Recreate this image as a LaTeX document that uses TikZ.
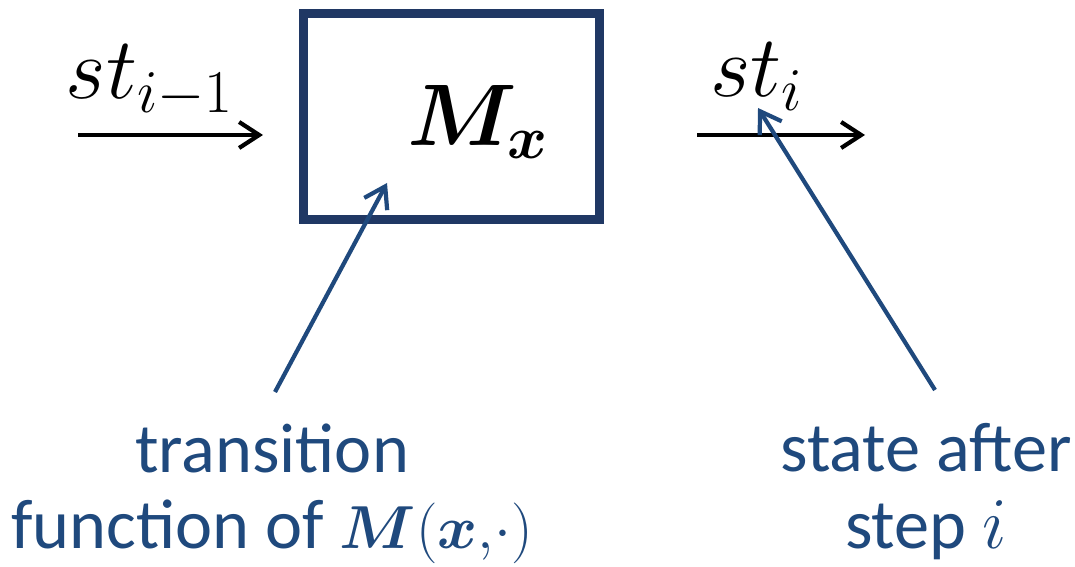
\documentclass[tikz,border=0pt]{standalone}
\usepackage{fontspec}
\setmainfont{Carlito}
\usepackage{amsmath, bm}
\usepackage{tikz}
\usetikzlibrary{arrows.meta}
\definecolor{boxnavy}{RGB}{32,56,100}
\definecolor{noteblue}{RGB}{31,73,125}

\begin{document}
\begin{tikzpicture}[scale=1,
        flow/.style={-{Straight Barb[length=2mm,width=2.6mm]}, line width=1.2pt},
        pointer/.style={-{Straight Barb[length=2mm,width=2.6mm]}, line width=1.2pt, noteblue},
        note/.style={noteblue, align=center, inner sep=0pt, font=\fontsize{20}{21.8}\selectfont}]
        \useasboundingbox (0,0) rectangle (10.75,5.66);
        % the machine M_x
        \node[draw=boxnavy, line width=2.3pt, minimum width=2.96cm, minimum height=2.06cm, inner sep=0pt] (box) at (4.515,4.495) {};
        \node (mx) at (4.78,4.44) {\fontsize{25}{30}\selectfont $\bm{M}_{\bm{x}}$};
        % state before and after
        \coordinate (in0) at (0.78,4.31);
        \coordinate (in1) at (2.63,4.31);
        \coordinate (out0) at (6.97,4.31);
        \coordinate (out1) at (8.65,4.31);
        \draw[flow] (in0) -- (in1);
        \draw[flow] (out0) -- (out1);
        \node[anchor=base] (sprev) at (1.50,4.67) {\fontsize{25}{30}\selectfont $st_{i-1}$};
        \node[anchor=base] (snext) at (7.57,4.69) {\fontsize{25}{30}\selectfont $st_i$};
        % the two notes
        \node[note, anchor=north] (trans) at (2.72,1.43) {transition\\function of {\fontsize{18}{21.8}\selectfont$\bm{M}(\bm{x}{,}\cdot)$}};
        \node[note, anchor=north] (after) at (9.26,1.43) {state after\\step $i$};
        \coordinate (tr0) at (2.75,1.74);
        \coordinate (tr1) at (3.87,3.83);
        \coordinate (st0) at (9.35,1.76);
        \coordinate (st1) at (7.58,4.58);
        \draw[pointer] (tr0) -- (tr1);
        \draw[pointer] (st0) -- (st1);
    \end{tikzpicture}
\end{document}
